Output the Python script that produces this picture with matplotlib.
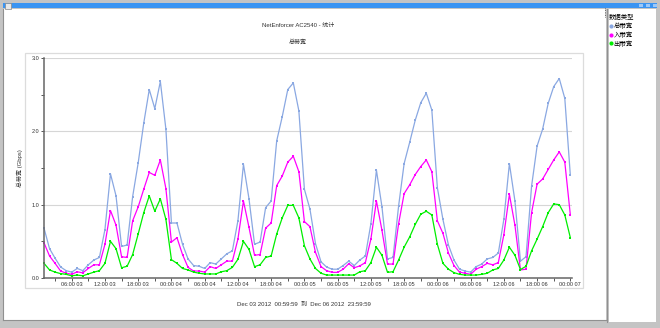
import matplotlib
matplotlib.use('Agg')
import matplotlib.pyplot as plt
import matplotlib.dates as mdates
import matplotlib.patches as patches
from matplotlib.lines import Line2D
import pandas as pd

FONT = ['Liberation Sans', 'Noto Sans CJK SC', 'DejaVu Sans']
plt.rcParams['font.family'] = FONT

# hourly samples, Dec 03 01:00 .. Dec 07 00:00 (Gbps)
total_bw = [0.68, 0.40, 0.27, 0.15, 0.10, 0.08, 0.13, 0.10, 0.18, 0.245, 0.28, 0.66,
            1.42, 1.12, 0.43, 0.45, 1.11, 1.57, 2.11, 2.57, 2.31, 2.68, 2.03, 0.75,
            0.75, 0.46, 0.26, 0.17, 0.16, 0.13, 0.21, 0.19, 0.26, 0.33, 0.37, 0.78,
            1.55, 1.08, 0.46, 0.49, 0.96, 1.05, 1.87, 2.20, 2.57, 2.66, 2.28, 1.21,
            0.94, 0.47, 0.22, 0.15, 0.12, 0.12, 0.17, 0.23, 0.17, 0.245, 0.30, 0.74,
            1.47, 0.97, 0.26, 0.28, 0.98, 1.56, 1.85, 2.15, 2.39, 2.52, 2.29, 1.23,
            0.80, 0.45, 0.245, 0.12, 0.095, 0.08, 0.155, 0.19, 0.26, 0.28, 0.34, 0.80,
            1.56, 1.05, 0.23, 0.29, 1.25, 1.80, 2.03, 2.38, 2.61, 2.72, 2.45, 1.40]
in_bw = [0.48, 0.30, 0.20, 0.095, 0.065, 0.05, 0.085, 0.07, 0.13, 0.18, 0.18, 0.46,
         0.92, 0.72, 0.29, 0.28, 0.78, 0.97, 1.21, 1.44, 1.40, 1.61, 1.22, 0.49,
         0.55, 0.32, 0.145, 0.095, 0.095, 0.08, 0.155, 0.13, 0.18, 0.23, 0.23, 0.53,
         1.05, 0.69, 0.31, 0.32, 0.68, 0.75, 1.26, 1.39, 1.58, 1.66, 1.45, 0.77,
         0.70, 0.35, 0.155, 0.10, 0.077, 0.077, 0.12, 0.195, 0.14, 0.165, 0.21, 0.53,
         1.05, 0.65, 0.19, 0.19, 0.74, 1.15, 1.27, 1.41, 1.52, 1.61, 1.45, 0.78,
         0.61, 0.34, 0.17, 0.08, 0.065, 0.05, 0.12, 0.155, 0.20, 0.18, 0.21, 0.59,
         1.14, 0.72, 0.11, 0.12, 0.89, 1.28, 1.35, 1.48, 1.61, 1.72, 1.58, 0.86]
out_bw = [0.20, 0.11, 0.08, 0.06, 0.05, 0.03, 0.04, 0.03, 0.055, 0.08, 0.10, 0.20,
          0.50, 0.40, 0.14, 0.16, 0.32, 0.60, 0.89, 1.12, 0.91, 1.08, 0.80, 0.25,
          0.20, 0.13, 0.11, 0.08, 0.065, 0.055, 0.055, 0.055, 0.085, 0.10, 0.145, 0.255,
          0.50, 0.39, 0.155, 0.18, 0.28, 0.30, 0.60, 0.82, 0.99, 0.99, 0.82, 0.44,
          0.26, 0.13, 0.065, 0.04, 0.04, 0.04, 0.04, 0.04, 0.04, 0.085, 0.10, 0.21,
          0.42, 0.31, 0.077, 0.086, 0.245, 0.42, 0.56, 0.73, 0.87, 0.91, 0.86, 0.46,
          0.20, 0.12, 0.073, 0.05, 0.04, 0.04, 0.04, 0.05, 0.064, 0.11, 0.13, 0.245,
          0.42, 0.31, 0.115, 0.16, 0.37, 0.53, 0.70, 0.89, 1.01, 1.00, 0.86, 0.55]

series_names = ['总带宽', '入带宽', '出带宽']
series_colors = ['#8aa8e2', '#ff00ff', '#00ee00']
y_ticks = [0.0, 1.0, 2.0, 3.0]
y_tick_labels = ['0.0', '1.0', '2.0', '3.0']

times = pd.date_range('2012-12-03 01:00', periods=len(total_bw), freq='h')

W, H = 660, 328
fig = plt.figure(figsize=(W / 100, H / 100), dpi=100, facecolor='white')

# window chrome drawn in pixel coordinates
bg = fig.add_axes([0, 0, 1, 1], zorder=0)
bg.set_xlim(0, W)
bg.set_ylim(H, 0)
bg.axis('off')
bg.add_patch(patches.Rectangle((0, 0), W, H, fc='#c4c4c4', ec='none'))
bg.add_patch(patches.Rectangle((3, 9), 603, 311, fc='white', ec='none'))
bg.add_patch(patches.Rectangle((609, 9), 47, 313, fc='white', ec='none'))
bg.add_patch(patches.Rectangle((3, 3), 654, 5, fc='#3a94f2', ec='none'))
bg.add_patch(patches.Rectangle((5, 3), 6, 6, fc='#e8e8e8', ec='#888888', lw=0.5))
for bx in (641, 648, 655):
    bg.add_patch(patches.Rectangle((bx - 2.5, 3.8), 4, 3.4, fc='#9cc8f8', ec='none'))
bg.plot([3, 3], [9, 320], color='#909090', lw=0.8)
bg.plot([607, 607], [9, 322], color='#909090', lw=0.8)
bg.plot([3, 607], [320, 320], color='#909090', lw=0.8)
bg.plot([605, 605], [8, 17], color='#333333', lw=0.6, ls=(0, (1, 1)))
# chart panel frame
bg.add_patch(patches.Rectangle((25, 53), 558, 235, fc='none', ec='#dcdcdc', lw=0.9))

bg.text(298, 25, 'NetEnforcer AC2540 - 统计', ha='center', va='center',
        fontsize=4.3, color='#333333')
bg.text(298, 42, '总带宽', ha='center', va='center', fontsize=4.3, color='#333333')
bg.text(304, 304, 'Dec 03 2012  00:59:59  到  Dec 06 2012  23:59:59',
        ha='center', va='center', fontsize=4.3, color='#333333')

# plot area
ax = fig.add_axes([44 / W, 1 - 278 / H, (572 - 44) / W, (278 - 58) / H], zorder=1)
ax.patch.set_alpha(0)

for vals, color in zip([total_bw, in_bw, out_bw], series_colors):
    ax.plot(times, vals, color=color, lw=0.9, marker='s', markersize=1.6,
            markeredgewidth=0, clip_on=False)

ax.set_xlim(times[0], times[0] + pd.Timedelta(hours=95.3))
ax.set_ylim(0, 3.0)
ax.set_yticks(y_ticks)
ax.set_yticklabels(y_tick_labels)
ax.set_yticks([0.5, 1.5, 2.5], minor=True)
ax.xaxis.set_major_locator(mdates.HourLocator(byhour=[0, 6, 12, 18]))
ax.xaxis.set_minor_locator(mdates.HourLocator(byhour=[3, 9, 15, 21]))
ax.xaxis.set_major_formatter(mdates.DateFormatter('%H:%M %d'))

ax.grid(axis='y', which='major', color='#d6d6d6', lw=0.8)
ax.set_axisbelow(True)
for side in ('top', 'right'):
    ax.spines[side].set_visible(False)
for side in ('left', 'bottom'):
    ax.spines[side].set_color('#666666')
    ax.spines[side].set_linewidth(1.1)
ax.tick_params(which='both', direction='out', length=2, width=0.7, color='#555555',
               labelsize=4.0, labelcolor='#333333', pad=1.2)
ax.set_ylabel('总带宽 (Gbps)', fontsize=4.3, color='#333333', labelpad=6)

# legend panel
handles = [Line2D([], [], ls='none', marker='o', markersize=3.0, color=c,
                  markeredgewidth=0) for c in series_colors]
leg = fig.legend(handles, series_names, title='数据类型', loc='upper left',
                 bbox_to_anchor=(604 / W, 1 - 9 / H), frameon=False,
                 fontsize=4.6, title_fontsize=4.6, handlelength=0.5,
                 handletextpad=0.15, labelspacing=0.35, borderpad=0.3)
leg._legend_box.align = 'left'

fig.savefig('out.png', dpi=100, facecolor='white')
